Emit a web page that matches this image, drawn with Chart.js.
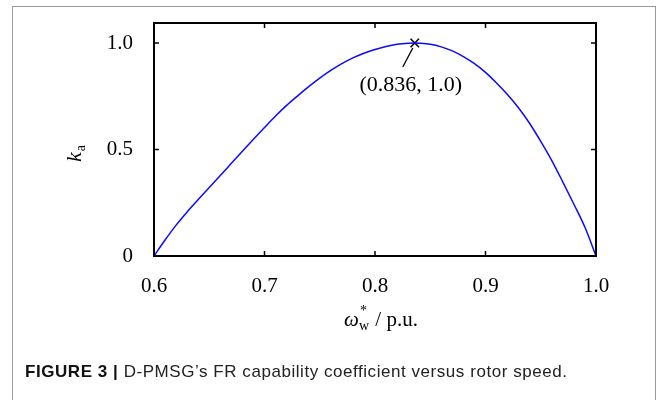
<!DOCTYPE html>
<html>
<head>
<meta charset="utf-8">
<script src="https://cdn.jsdelivr.net/npm/chart.js@4.4.1/dist/chart.umd.min.js"></script>
<style>
  html, body { margin: 0; padding: 0; background: #fff; }
  #wrap { position: relative; width: 663px; height: 400px; overflow: hidden; background: #fff; }
  #frame { position: absolute; left: 12px; top: 6px; width: 644px; height: 430px; border: 1.5px solid #9a9a9a; box-sizing: border-box; }
  #chart { position: absolute; left: 0; top: 0; }
  #caption { position: absolute; left: 25px; top: 362px; font: 17px "Liberation Sans", Arial, sans-serif; letter-spacing: 0.55px; color: #222; white-space: nowrap; }
  #caption b { color: #111; }
</style>
</head>
<body>
<div id="wrap">
  <div id="frame"></div>
  <canvas id="chart" width="663" height="400"></canvas>
  <div id="caption"><b>FIGURE 3 |</b> D-PMSG’s FR capability coefficient versus rotor speed.</div>
</div>
<script>
// rotor speed (p.u.) and FR capability coefficient
const omega = [0.60, 0.61, 0.62, 0.63, 0.64, 0.65, 0.66, 0.67, 0.68, 0.69,
               0.70, 0.71, 0.72, 0.73, 0.74, 0.75, 0.76, 0.77, 0.78, 0.79,
               0.80, 0.81, 0.82, 0.83, 0.836, 0.84, 0.85, 0.86, 0.87, 0.88,
               0.89, 0.90, 0.91, 0.92, 0.93, 0.94, 0.95, 0.96, 0.97, 0.98,
               0.99, 1.00];
const ka = [0, 0.075, 0.145, 0.207, 0.265, 0.322, 0.378, 0.435, 0.492, 0.548,
            0.603, 0.657, 0.707, 0.752, 0.795, 0.835, 0.871, 0.903, 0.930, 0.952,
            0.970, 0.984, 0.994, 0.999, 1.0, 0.999, 0.994, 0.982, 0.963, 0.936,
            0.903, 0.862, 0.812, 0.757, 0.695, 0.622, 0.538, 0.448, 0.347, 0.243,
            0.135, 0];

const peakOmega = [0.836];
const peakKa = [1.0];
const peakLabel = '(0.836, 1.0)';

const xTicks = [0.6, 0.7, 0.8, 0.9, 1.0];
const xTickLabels = ['0.6', '0.7', '0.8', '0.9', '1.0'];
const yTicks = [0, 0.5, 1.0];
const yTickLabels = ['0', '0.5', '1.0'];

const serif = '"Liberation Serif", "Times New Roman", serif';

const decorPlugin = {
    id: 'decor',
    afterDatasetsDraw: function (chart) {
        const ctx = chart.ctx;
        const a = chart.chartArea;
        const x = chart.scales.x, y = chart.scales.y;
        ctx.save();
        ctx.strokeStyle = '#000';

        // box round the plot
        ctx.lineWidth = 2;
        ctx.strokeRect(a.left, a.top, a.right - a.left, a.bottom - a.top);

        // inward ticks on all four sides
        ctx.lineWidth = 1.5;
        ctx.beginPath();
        xTicks.forEach(v => {
            const px = x.getPixelForValue(v);
            ctx.moveTo(px, a.bottom); ctx.lineTo(px, a.bottom - 5);
            ctx.moveTo(px, a.top); ctx.lineTo(px, a.top + 5);
        });
        yTicks.forEach(v => {
            const py = y.getPixelForValue(v);
            ctx.moveTo(a.left, py); ctx.lineTo(a.left + 5, py);
            ctx.moveTo(a.right, py); ctx.lineTo(a.right - 5, py);
        });
        ctx.stroke();

        // peak annotation
        const px = x.getPixelForValue(peakOmega[0]);
        const py = y.getPixelForValue(peakKa[0]);
        ctx.lineWidth = 1.3;
        ctx.beginPath();
        ctx.moveTo(px - 2, py + 5);
        ctx.lineTo(px - 12, py + 24);
        ctx.stroke();
        ctx.fillStyle = '#000';
        ctx.font = '22px ' + serif;
        ctx.textAlign = 'center';
        ctx.textBaseline = 'alphabetic';
        ctx.fillText(peakLabel, px - 4, py + 48);

        // x axis title: omega*_w / p.u.
        ctx.textAlign = 'left';
        const main = '21px ' + serif, mainIt = 'italic 21px ' + serif, small = '14px ' + serif;
        ctx.font = mainIt; const wOm = ctx.measureText('ω').width;
        ctx.font = small; const wSub = ctx.measureText('w').width;
        ctx.font = main; const wRest = ctx.measureText(' / p.u.').width;
        const total = wOm + wSub + 1 + wRest;
        let tx = (a.left + a.right) / 2 + 6 - total / 2;
        const tb = 326;
        ctx.font = mainIt; ctx.fillText('ω', tx, tb); tx += wOm;
        ctx.font = small; ctx.fillText('w', tx, tb + 4); ctx.fillText('*', tx + 1, tb - 11); tx += wSub + 1;
        ctx.font = main; ctx.fillText(' / p.u.', tx, tb);

        // y axis title: k_a
        ctx.save();
        ctx.translate(81, 162);
        ctx.rotate(-Math.PI / 2);
        ctx.font = 'italic 22px ' + serif;
        ctx.fillText('k', 0, 0);
        const wk = ctx.measureText('k').width;
        ctx.font = small;
        ctx.fillText('a', wk + 1, 4);
        ctx.restore();

        ctx.restore();
    }
};

const ctx = document.getElementById('chart').getContext('2d');
new Chart(ctx, {
    type: 'scatter',
    data: {
        datasets: [
            {
                data: omega.map((v, i) => ({x: v, y: ka[i]})),
                showLine: true,
                borderColor: '#0a0aff',
                borderWidth: 1.5,
                pointRadius: 0,
                cubicInterpolationMode: 'monotone',
                fill: false
            },
            {
                data: peakOmega.map((v, i) => ({x: v, y: peakKa[i]})),
                showLine: false,
                pointStyle: 'crossRot',
                pointRadius: 6,
                borderColor: '#000',
                borderWidth: 1.5
            }
        ]
    },
    options: {
        responsive: false,
        animation: false,
        events: [],
        layout: { padding: { left: 54, top: 23, right: 67, bottom: 0 } },
        plugins: { legend: { display: false }, tooltip: { enabled: false } },
        scales: {
            x: {
                type: 'linear',
                min: 0.6,
                max: 1.0,
                afterBuildTicks: s => { s.ticks = xTicks.map(v => ({value: v})); },
                afterFit: s => { s.height = 144; },
                grid: { display: false, drawTicks: false },
                border: { display: false },
                ticks: {
                    padding: 18,
                    color: '#000',
                    font: { family: serif, size: 21 },
                    maxRotation: 0,
                    callback: (v) => xTickLabels[xTicks.indexOf(v)] ?? ''
                }
            },
            y: {
                type: 'linear',
                min: 0,
                max: 1.094,
                afterBuildTicks: s => { s.ticks = yTicks.map(v => ({value: v})); },
                afterFit: s => { s.width = 100; s.paddingTop = 0; s.paddingBottom = 0; },
                grid: { display: false, drawTicks: false },
                border: { display: false },
                ticks: {
                    padding: 21,
                    color: '#000',
                    font: { family: serif, size: 21 },
                    callback: (v) => yTickLabels[yTicks.indexOf(v)] ?? ''
                }
            }
        }
    },
    plugins: [decorPlugin]
});
</script>
</body>
</html>
